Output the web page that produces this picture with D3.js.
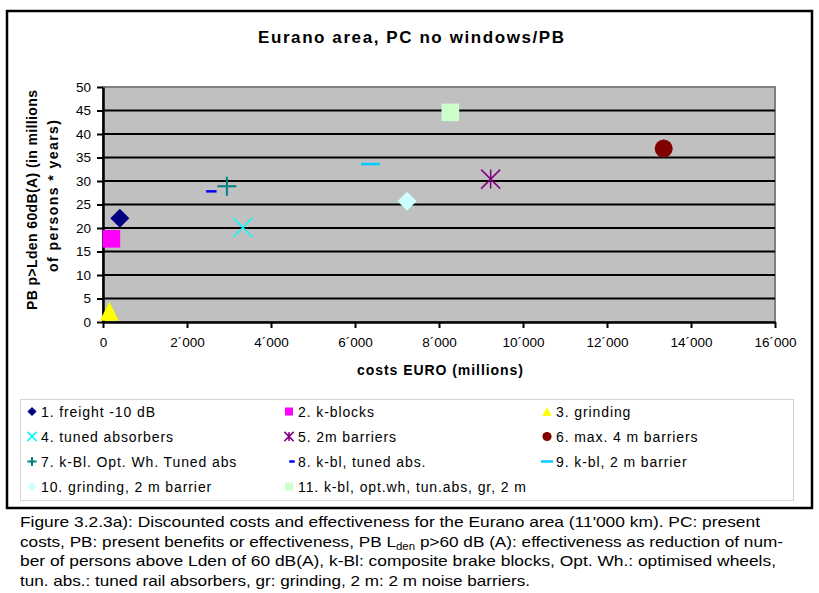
<!DOCTYPE html>
<html>
<head>
<meta charset="utf-8">
<script src="https://cdn.jsdelivr.net/npm/d3@7"></script>
<style>
  html, body { margin: 0; padding: 0; background: #fff; }
  svg { display: block; }
  text { font-family: Arial, "Liberation Sans", sans-serif; fill: #000; }
</style>
</head>
<body>
<svg id="chart" width="819" height="593"></svg>
<script>
// ---- data ----
const titleText = "Eurano area, PC no windows/PB";
const xTitle = "costs EURO (millions)";
const yTitleLines = ["PB p>Lden 60dB(A) (in millions", "of persons * years)"];
const labels = [
  "1. freight -10 dB", "2. k-blocks", "3. grinding",
  "4. tuned absorbers", "5. 2m barriers", "6. max. 4 m barriers",
  "7. k-Bl. Opt. Wh. Tuned abs", "8. k-bl, tuned abs.", "9. k-bl, 2 m barrier",
  "10. grinding, 2 m barrier", "11. k-bl, opt.wh, tun.abs, gr, 2 m"
];
const costs = [400, 200, 150, 3330, 9230, 13350, 2950, 2580, 6370, 7240, 8270];
const effectiveness = [22.1, 17.7, 2.3, 20.1, 30.4, 36.9, 28.9, 27.8, 33.6, 25.7, 44.6];
const xTicks = [0, 2000, 4000, 6000, 8000, 10000, 12000, 14000, 16000];
const yTicks = [0, 5, 10, 15, 20, 25, 30, 35, 40, 45, 50];
const captionLines = [
  "Figure 3.2.3a): Discounted costs and effectiveness for the Eurano area (11'000 km). PC: present",
  ["costs, PB: present benefits or effectiveness, PB L", "den", " p>60 dB (A): effectiveness as reduction of num-"],
  "ber of persons above Lden of 60 dB(A), k-Bl: composite brake blocks, Opt. Wh.: optimised wheels,",
  "tun. abs.: tuned rail absorbers, gr: grinding, 2 m: 2 m noise barriers."
];

// ---- styles ----
const shapes = ["diamond", "square", "triangle", "x", "asterisk", "circle", "plus", "dashShort", "dash", "diamond", "square"];
const colors = ["#000080", "#FF00FF", "#FFFF00", "#00FFFF", "#800080", "#800000", "#008080", "#0000FF", "#00CCFF", "#CCFFFF", "#CCFFCC"];

const svg = d3.select("#chart");

// outer frame
svg.append("rect").attr("x", 7).attr("y", 11).attr("width", 805).attr("height", 497)
  .attr("fill", "none").attr("stroke", "#000").attr("stroke-width", 2.5);

const x = d3.scaleLinear().domain([0, 16000]).range([103, 775]);
const y = d3.scaleLinear().domain([0, 50]).range([322, 87]);

// plot area
svg.append("rect").attr("x", x(0)).attr("y", y(50)).attr("width", x(16000) - x(0)).attr("height", y(0) - y(50))
  .attr("fill", "#C0C0C0").attr("stroke", "#808080").attr("stroke-width", 2);

// gridlines
svg.append("g").selectAll("line").data(yTicks.filter(d => d > 0 && d < 50)).join("line")
  .attr("x1", x(0)).attr("x2", x(16000)).attr("y1", d => y(d)).attr("y2", d => y(d))
  .attr("stroke", "#000").attr("stroke-width", 2);

// axes
const fmt = d => d3.format(",")(d).replace(/,/g, "\u00B4");
const gx = svg.append("g").attr("transform", `translate(0,${y(0)})`)
  .call(d3.axisBottom(x).tickValues(xTicks).tickSize(6).tickSizeOuter(0).tickPadding(9).tickFormat(fmt));
const gy = svg.append("g").attr("transform", `translate(${x(0)},0)`)
  .call(d3.axisLeft(y).tickValues(yTicks).tickSize(6).tickSizeOuter(0).tickPadding(6));
[gx, gy].forEach(g => {
  g.select(".domain").attr("stroke", "#000").attr("stroke-width", 2.5);
  g.selectAll(".tick line").attr("stroke", "#000").attr("stroke-width", 2);
  g.selectAll(".tick text").attr("font-family", "Arial, 'Liberation Sans', sans-serif")
    .attr("font-size", 13.5).attr("fill", "#000");
});

// marker paths
function markerPath(shape, r) {
  switch (shape) {
    case "diamond": return `M0,${-r}L${r},0L0,${r}L${-r},0Z`;
    case "square": return `M${-r},${-r}H${r}V${r}H${-r}Z`;
    case "triangle": return `M0,${-r}L${r},${r}L${-r},${r}Z`;
    case "circle": return `M${r},0A${r},${r} 0 1,1 ${-r},0A${r},${r} 0 1,1 ${r},0Z`;
    case "x": return `M${-r},${-r}L${r},${r}M${r},${-r}L${-r},${r}`;
    case "asterisk": return `M${-r},${-r}L${r},${r}M${r},${-r}L${-r},${r}M0,${-r}V${r}`;
    case "plus": return `M${-r},0H${r}M0,${-r}V${r}`;
    case "dash": return `M${-r},0H${r}`;
    case "dashShort": return `M${-r * 0.55},0H${r * 0.55}`;
  }
}
const filled = s => ["diamond", "square", "triangle", "circle"].includes(s);
const strokeW = { x: 1.5, asterisk: 1.5, plus: 2, dash: 2.5, dashShort: 2.5 };

function drawMarker(g, shape, color, r) {
  const p = g.append("path").attr("d", markerPath(shape, r));
  if (filled(shape)) p.attr("fill", color);
  else p.attr("fill", "none").attr("stroke", color).attr("stroke-width", strokeW[shape]);
}

const pts = costs.map((c, i) => ({ c, e: effectiveness[i], shape: shapes[i], color: colors[i] }));
pts.forEach(d => {
  const g = svg.append("g").attr("transform", `translate(${x(d.c)},${y(d.e)})`);
  const r = d.shape === "circle" ? 9 : d.shape === "square" ? 8.8 : 9.5;
  drawMarker(g, d.shape, d.color, r);
});

// title
svg.append("text").attr("x", 411).attr("y", 43).attr("text-anchor", "middle")
  .attr("font-size", 17).attr("font-weight", "bold")
  .attr("textLength", 306).attr("lengthAdjust", "spacing").text(titleText);

// x title
svg.append("text").attr("x", 440).attr("y", 375).attr("text-anchor", "middle")
  .attr("font-size", 14).attr("font-weight", "bold")
  .attr("textLength", 166).attr("lengthAdjust", "spacing").text(xTitle);

// y title
const yt = svg.append("g").attr("transform", "translate(0,200) rotate(-90)");
yt.append("text").attr("x", 0).attr("y", 37).attr("text-anchor", "middle")
  .attr("font-size", 14).attr("font-weight", "bold")
  .attr("textLength", 220).attr("lengthAdjust", "spacing").text(yTitleLines[0]);
yt.append("text").attr("x", 4).attr("y", 58).attr("text-anchor", "middle")
  .attr("font-size", 14).attr("font-weight", "bold")
  .attr("textLength", 152).attr("lengthAdjust", "spacing").text(yTitleLines[1]);

// legend
svg.append("rect").attr("x", 20.5).attr("y", 399.5).attr("width", 773).attr("height", 101)
  .attr("fill", "#fff").attr("stroke", "#D4D4D4").attr("stroke-width", 1);
const colSym = [32, 289, 547];
const colText = [41, 298, 556];
const rowY = [411.5, 436.5, 461.5, 486.5];
labels.forEach((lab, i) => {
  const col = i % 3, row = Math.floor(i / 3);
  const sx = colSym[col] + (shapes[i] === "dashShort" ? 3 : 0);
  const g = svg.append("g").attr("transform", `translate(${sx},${rowY[row]})`);
  const sh = shapes[i];
  const r = sh === "dash" ? 6 : sh === "dashShort" ? 5 : sh === "square" ? 4 : 4.6;
  drawMarker(g, sh, colors[i], r);
  svg.append("text").attr("x", colText[col]).attr("y", rowY[row] + 5)
    .attr("font-size", 14).attr("letter-spacing", 0.9).text(lab);
});

// caption
const capFont = "'Liberation Sans Narrow', 'Arial Narrow', 'DejaVu Sans Condensed', sans-serif";
const capWidths = [740, 763, 756, 510];
const capY = [527, 547, 566, 586];
captionLines.forEach((line, i) => {
  const t = svg.append("text").attr("x", 20).attr("y", capY[i])
    .attr("font-family", capFont).attr("font-size", 15)
    .attr("textLength", capWidths[i]).attr("lengthAdjust", "spacingAndGlyphs");
  if (Array.isArray(line)) {
    t.append("tspan").text(line[0]);
    t.append("tspan").attr("font-size", 10).attr("dy", 3).text(line[1]);
    t.append("tspan").attr("dy", -3).text(line[2]);
  } else {
    t.text(line);
  }
});
</script>
</body>
</html>
